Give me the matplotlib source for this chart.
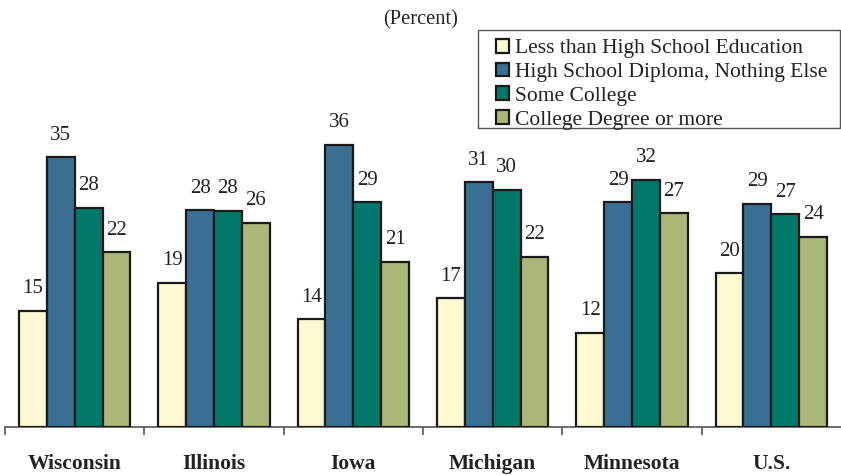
import matplotlib
matplotlib.use("Agg")
import matplotlib.pyplot as plt
from matplotlib.patches import Rectangle
import numpy as np

categories = ["Wisconsin", "Illinois", "Iowa", "Michigan", "Minnesota", "U.S."]
series_names = ["Less than High School Education",
                "High School Diploma, Nothing Else",
                "Some College",
                "College Degree or more"]
less_hs = [14.9, 18.5, 13.8, 16.5, 12.1, 19.7]
hs_diploma = [34.6, 27.8, 36.2, 31.4, 28.8, 28.6]
some_college = [28.1, 27.7, 28.8, 30.4, 31.7, 27.3]
college_degree = [22.4, 26.2, 21.2, 21.8, 27.4, 24.4]
labels_less_hs = [15, 19, 14, 17, 12, 20]
labels_hs_diploma = [35, 28, 36, 31, 29, 29]
labels_some_college = [28, 28, 29, 30, 32, 27]
labels_college_degree = [22, 26, 21, 22, 27, 24]

values = [less_hs, hs_diploma, some_college, college_degree]
labels = [labels_less_hs, labels_hs_diploma, labels_some_college, labels_college_degree]
colors = ["#FEF9D3", "#3A6F94", "#00796C", "#A9B879"]

plt.rcParams['font.family'] = ['Liberation Serif', 'DejaVu Serif']

W, H = 841, 475
fig = plt.figure(figsize=(W / 100, H / 100), dpi=100)
ax = fig.add_axes([5 / W, 48 / H, 836 / W, 427 / H])

x = np.arange(len(categories))
w = 0.2
for i, (vals, lab, col, name) in enumerate(zip(values, labels, colors, series_names)):
    pos = x + (i - 1.5) * w
    ax.bar(pos, vals, width=w, color=col, edgecolor="#1a1a1a", linewidth=1.6,
           label=name, zorder=3)
    for p, v, l in zip(pos, vals, lab):
        ax.text(p, v + 1.6, str(l), ha="center", va="bottom", fontsize=15, color="#222222")

ax.set_xlim(-0.5, 5.5)
ax.set_ylim(0, 427 / 7.8)
for s in ["top", "right", "left"]:
    ax.spines[s].set_visible(False)
ax.spines["bottom"].set_color("#555555")
ax.spines["bottom"].set_linewidth(1.2)
ax.set_yticks([])
ax.set_xticks(np.arange(-0.5, 5.5, 1.0))
ax.set_xticklabels([])
ax.tick_params(axis="x", length=6, width=1.2, color="#555555", direction="out")
for xi, c in zip(x, categories):
    ax.text(xi, -0.087, c, transform=ax.get_xaxis_transform(), ha="center", va="center",
            fontsize=15.5, fontweight="bold", color="#222222")

fig.text(421 / W, 1 - 20 / H, "(Percent)", ha="center", va="center", fontsize=14.8, color="#222222")

# legend frame
frame = Rectangle((478 / W, 1 - 128 / H), 362 / W, 98 / H, transform=fig.transFigure,
                  facecolor="white", edgecolor="#555555", linewidth=1.0, zorder=5, clip_on=False)
ax.add_patch(frame)

leg = ax.legend(loc="upper left", bbox_to_anchor=(496 / W, 1 - 39 / H),
                bbox_transform=fig.transFigure, fontsize=15.5, frameon=False,
                handlelength=0.6, handleheight=0.6, handletextpad=0.3,
                labelspacing=0.2, borderpad=0.0, borderaxespad=0)
leg.set_zorder(6)
for t in leg.get_texts():
    t.set_color("#222222")
for h in leg.legend_handles:
    h.set_linewidth(1.6)

fig.savefig("out.png", dpi=100)
